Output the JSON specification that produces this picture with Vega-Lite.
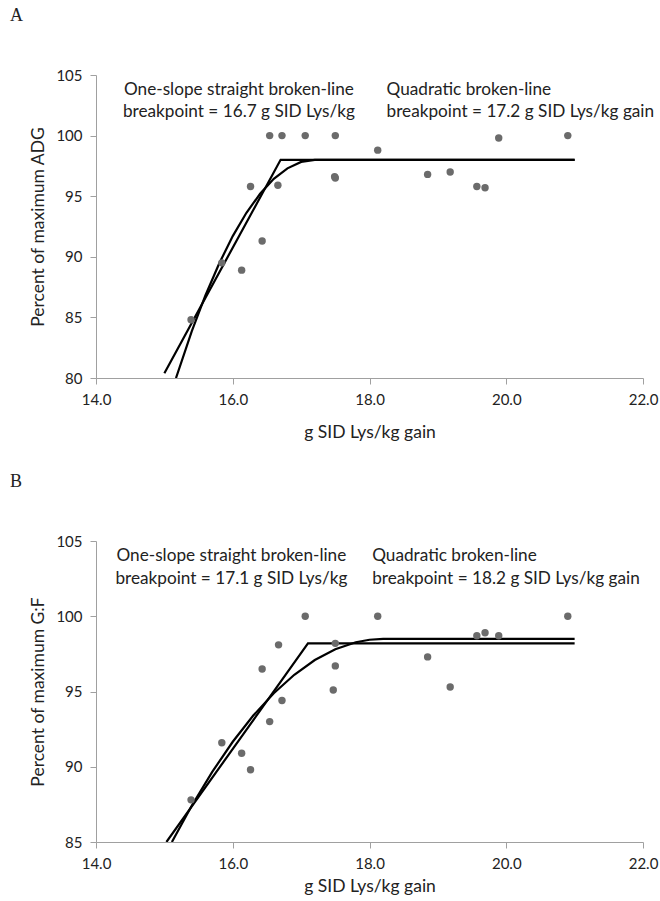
{
  "$schema": "https://vega.github.io/schema/vega-lite/v6.json",
  "padding": {"left": 10, "top": 7, "right": 5, "bottom": 0},
  "spacing": 32,
  "config": {
    "view": {"stroke": null},
    "font": "Lato",
    "axis": {"grid": false, "domainColor": "#a0a0a0", "tickColor": "#a0a0a0", "tickSize": 6, "labelFont": "Lato", "labelFontSize": 15, "labelColor": "#222222", "titleFont": "Lato", "titleFontSize": 17.5, "titleFontWeight": "normal", "titleColor": "#222222", "labelPadding": 8},
    "title": {"font": "Liberation Serif", "fontSize": 18, "fontWeight": "normal", "anchor": "start", "frame": "group", "dx": -86, "offset": 43, "color": "#222222"}
  },
  "datasets": {
    "pointsA": [
      {"x": 16.54, "y": 100}, {"x": 16.72, "y": 100}, {"x": 17.06, "y": 100}, {"x": 17.5, "y": 100},
      {"x": 16.26, "y": 95.8}, {"x": 16.66, "y": 95.9}, {"x": 17.49, "y": 96.6}, {"x": 17.5, "y": 96.5},
      {"x": 16.43, "y": 91.3}, {"x": 15.84, "y": 89.5}, {"x": 16.13, "y": 88.9}, {"x": 15.39, "y": 84.8},
      {"x": 18.12, "y": 98.8}, {"x": 18.85, "y": 96.8}, {"x": 19.18, "y": 97.0}, {"x": 19.57, "y": 95.8},
      {"x": 19.69, "y": 95.7}, {"x": 19.89, "y": 99.8}, {"x": 20.9, "y": 100}
    ],
    "pointsB": [
      {"x": 17.06, "y": 100}, {"x": 16.67, "y": 98.1}, {"x": 16.43, "y": 96.5}, {"x": 17.5, "y": 98.2},
      {"x": 17.5, "y": 96.7}, {"x": 17.47, "y": 95.1}, {"x": 16.72, "y": 94.4}, {"x": 16.54, "y": 93.0},
      {"x": 15.84, "y": 91.6}, {"x": 16.13, "y": 90.9}, {"x": 16.26, "y": 89.8}, {"x": 15.39, "y": 87.8},
      {"x": 18.12, "y": 100}, {"x": 18.85, "y": 97.3}, {"x": 19.18, "y": 95.3}, {"x": 19.57, "y": 98.7},
      {"x": 19.69, "y": 98.9}, {"x": 19.89, "y": 98.7}, {"x": 20.9, "y": 100}
    ],
    "linesA": [
      {"model": "straight", "x": 15.0, "y": 80.4}, {"model": "straight", "x": 16.7, "y": 98.0}, {"model": "straight", "x": 21.0, "y": 98.0},
      {"model": "quad", "x": 15.17, "y": 80.0}, {"model": "quad", "x": 15.4, "y": 83.84}, {"model": "quad", "x": 15.6, "y": 86.81},
      {"model": "quad", "x": 15.8, "y": 89.43}, {"model": "quad", "x": 16.0, "y": 91.71}, {"model": "quad", "x": 16.2, "y": 93.63},
      {"model": "quad", "x": 16.4, "y": 95.2}, {"model": "quad", "x": 16.6, "y": 96.43}, {"model": "quad", "x": 16.8, "y": 97.3},
      {"model": "quad", "x": 17.0, "y": 97.83}, {"model": "quad", "x": 17.2, "y": 98.0}, {"model": "quad", "x": 21.0, "y": 98.0}
    ],
    "linesB": [
      {"model": "straight", "x": 15.03, "y": 85.0}, {"model": "straight", "x": 17.1, "y": 98.2}, {"model": "straight", "x": 21.0, "y": 98.2},
      {"model": "quad", "x": 15.11, "y": 85.0}, {"model": "quad", "x": 15.4, "y": 87.41}, {"model": "quad", "x": 15.7, "y": 89.66},
      {"model": "quad", "x": 16.0, "y": 91.66}, {"model": "quad", "x": 16.3, "y": 93.4}, {"model": "quad", "x": 16.6, "y": 94.88},
      {"model": "quad", "x": 16.9, "y": 96.11}, {"model": "quad", "x": 17.2, "y": 97.09}, {"model": "quad", "x": 17.5, "y": 97.81},
      {"model": "quad", "x": 17.8, "y": 98.27}, {"model": "quad", "x": 18.0, "y": 98.44}, {"model": "quad", "x": 18.2, "y": 98.5},
      {"model": "quad", "x": 21.0, "y": 98.5}
    ],
    "labelsA": [
      {"model": "straight", "x": 16.09, "y": 103.8, "label": "One-slope straight broken-line"},
      {"model": "straight", "x": 16.09, "y": 101.95, "label": "breakpoint = 16.7 g SID Lys/kg"},
      {"model": "quad", "x": 18.25, "y": 103.8, "label": "Quadratic broken-line"},
      {"model": "quad", "x": 18.25, "y": 101.95, "label": "breakpoint = 17.2 g SID Lys/kg gain"}
    ],
    "labelsB": [
      {"model": "straight", "x": 15.98, "y": 104.0, "label": "One-slope straight broken-line"},
      {"model": "straight", "x": 15.98, "y": 102.5, "label": "breakpoint = 17.1 g SID Lys/kg"},
      {"model": "quad", "x": 18.04, "y": 104.0, "label": "Quadratic broken-line"},
      {"model": "quad", "x": 18.04, "y": 102.5, "label": "breakpoint = 18.2 g SID Lys/kg gain"}
    ]
  },
  "vconcat": [
    {
      "title": "A",
      "width": 547,
      "height": 303,
      "layer": [
        {
          "data": {"name": "linesA"},
          "mark": {"type": "line", "color": "black", "strokeWidth": 2.2, "clip": true},
          "encoding": {
            "x": {"field": "x", "type": "quantitative", "scale": {"domain": [14, 22], "nice": false}, "axis": {"values": [14, 16, 18, 20, 22], "format": ".1f", "title": "g SID Lys/kg gain", "labelFlush": false, "titlePadding": 16}},
            "y": {"field": "y", "type": "quantitative", "scale": {"domain": [80, 105], "nice": false}, "axis": {"values": [80, 85, 90, 95, 100, 105], "title": "Percent of maximum ADG", "titlePadding": 8}},
            "detail": {"field": "model"}
          }
        },
        {
          "data": {"name": "pointsA"},
          "mark": {"type": "circle", "color": "#6b6b6b", "size": 55, "opacity": 1},
          "encoding": {
            "x": {"field": "x", "type": "quantitative"},
            "y": {"field": "y", "type": "quantitative"}
          }
        },
        {
          "data": {"name": "labelsA"},
          "transform": [{"filter": "datum.model == 'straight'"}],
          "mark": {"type": "text", "align": "center", "baseline": "middle", "fontSize": 17.2, "color": "#222222"},
          "encoding": {
            "x": {"field": "x", "type": "quantitative"},
            "y": {"field": "y", "type": "quantitative"},
            "text": {"field": "label"}
          }
        },
        {
          "data": {"name": "labelsA"},
          "transform": [{"filter": "datum.model == 'quad'"}],
          "mark": {"type": "text", "align": "left", "baseline": "middle", "fontSize": 17.2, "color": "#222222"},
          "encoding": {
            "x": {"field": "x", "type": "quantitative"},
            "y": {"field": "y", "type": "quantitative"},
            "text": {"field": "label"}
          }
        }
      ]
    },
    {
      "title": "B",
      "width": 547,
      "height": 301,
      "layer": [
        {
          "data": {"name": "linesB"},
          "mark": {"type": "line", "color": "black", "strokeWidth": 2.2, "clip": true},
          "encoding": {
            "x": {"field": "x", "type": "quantitative", "scale": {"domain": [14, 22], "nice": false}, "axis": {"values": [14, 16, 18, 20, 22], "format": ".1f", "title": "g SID Lys/kg gain", "labelFlush": false, "titlePadding": 6}},
            "y": {"field": "y", "type": "quantitative", "scale": {"domain": [85, 105], "nice": false}, "axis": {"values": [85, 90, 95, 100, 105], "title": "Percent of maximum G:F", "titlePadding": 8}},
            "detail": {"field": "model"}
          }
        },
        {
          "data": {"name": "pointsB"},
          "mark": {"type": "circle", "color": "#6b6b6b", "size": 55, "opacity": 1},
          "encoding": {
            "x": {"field": "x", "type": "quantitative"},
            "y": {"field": "y", "type": "quantitative"}
          }
        },
        {
          "data": {"name": "labelsB"},
          "transform": [{"filter": "datum.model == 'straight'"}],
          "mark": {"type": "text", "align": "center", "baseline": "middle", "fontSize": 17.2, "color": "#222222"},
          "encoding": {
            "x": {"field": "x", "type": "quantitative"},
            "y": {"field": "y", "type": "quantitative"},
            "text": {"field": "label"}
          }
        },
        {
          "data": {"name": "labelsB"},
          "transform": [{"filter": "datum.model == 'quad'"}],
          "mark": {"type": "text", "align": "left", "baseline": "middle", "fontSize": 17.2, "color": "#222222"},
          "encoding": {
            "x": {"field": "x", "type": "quantitative"},
            "y": {"field": "y", "type": "quantitative"},
            "text": {"field": "label"}
          }
        }
      ]
    }
  ]
}
